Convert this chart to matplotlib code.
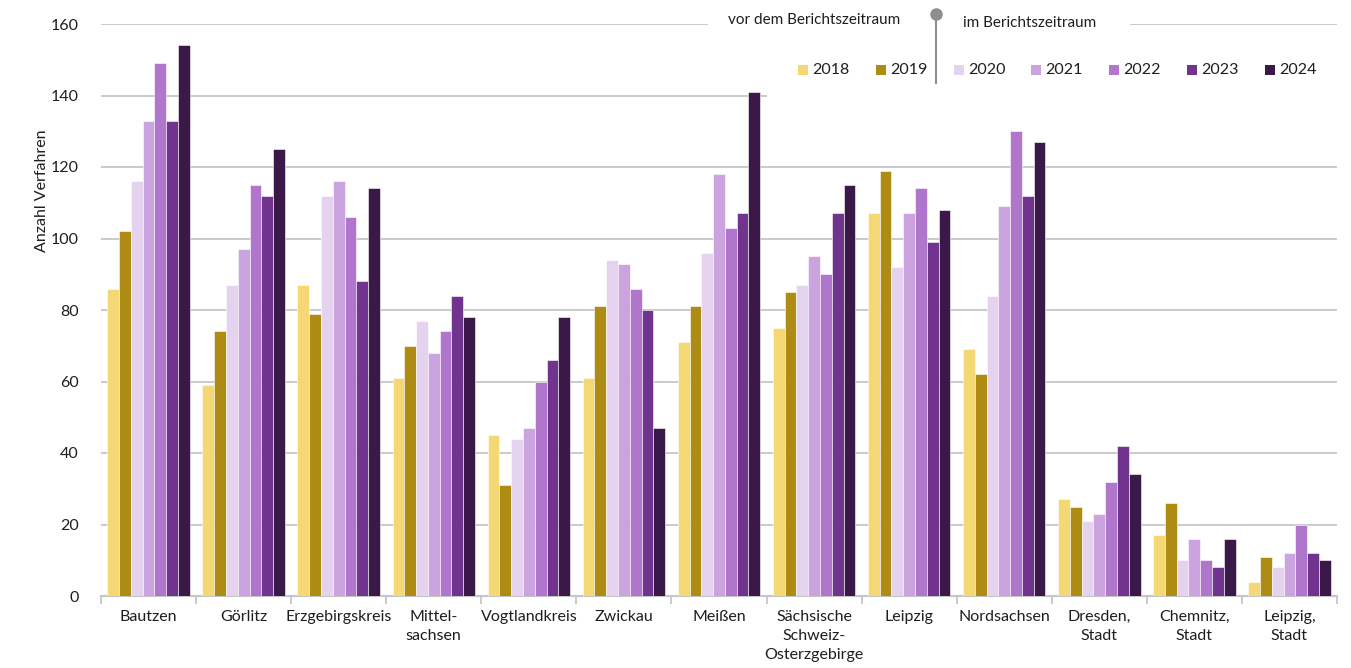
import numpy as np
import matplotlib
matplotlib.use("Agg")
import matplotlib.pyplot as plt
from matplotlib.patches import Rectangle
from matplotlib.lines import Line2D

plt.rcParams['font.family'] = ['Lato', 'DejaVu Sans']

regions = ['Bautzen', 'Görlitz', 'Erzgebirgskreis', 'Mittel-\nsachsen', 'Vogtlandkreis',
           'Zwickau', 'Meißen', 'Sächsische\nSchweiz-\nOsterzgebirge', 'Leipzig',
           'Nordsachsen', 'Dresden,\nStadt', 'Chemnitz,\nStadt', 'Leipzig,\nStadt']
years = ['2018', '2019', '2020', '2021', '2022', '2023', '2024']

v2018 = [86, 59, 87, 61, 45, 61, 71, 75, 107, 69, 27, 17, 4]
v2019 = [102, 74, 79, 70, 31, 81, 81, 85, 119, 62, 25, 26, 11]
v2020 = [116, 87, 112, 77, 44, 94, 96, 87, 92, 84, 21, 10, 8]
v2021 = [133, 97, 116, 68, 47, 93, 118, 95, 107, 109, 23, 16, 12]
v2022 = [149, 115, 106, 74, 60, 86, 103, 90, 114, 130, 32, 10, 20]
v2023 = [133, 112, 88, 84, 66, 80, 107, 107, 99, 112, 42, 8, 12]
v2024 = [154, 125, 114, 78, 78, 47, 141, 115, 108, 127, 34, 16, 10]

colors = ['#F3D873', '#AE8C13', '#E4D2EE', '#CBA3DE', '#B076CC', '#70338E', '#3A1949']
series = [v2018, v2019, v2020, v2021, v2022, v2023, v2024]

W, H = 1351, 668
fig = plt.figure(figsize=(W / 100, H / 100), dpi=100)
ax = fig.add_axes([101 / W, 1 - 596 / H, (1337 - 101) / W, (596 - 24) / H])

txt = '#1e1e1e'
grid_c = '#C6C6C6'

x = np.arange(len(regions))
bw = 0.124
for i, (vals, c) in enumerate(zip(series, colors)):
    off = (i - 3) * bw
    ax.bar(x + off, vals, width=bw, color=c, edgecolor='white', linewidth=0.4, zorder=3)

ax.set_xlim(-0.5, len(regions) - 0.5)
ax.set_ylim(0, 160)
ax.set_yticks(np.arange(0, 161, 20))
ax.yaxis.grid(True, color=grid_c, linewidth=1.3, zorder=0.5)
ax.set_axisbelow(True)
ax.tick_params(axis='y', length=0, pad=16, labelsize=11.5, labelcolor=txt)

ax.set_xticks(x)
ax.set_xticklabels(regions, fontsize=11.5, color=txt, linespacing=1.45)
ax.tick_params(axis='x', which='major', length=0, pad=10)
ax.set_xticks(np.arange(-0.5, len(regions)), minor=True)
ax.tick_params(axis='x', which='minor', length=6, width=1.3, color=grid_c, direction='out')

for s in ['top', 'right', 'left']:
    ax.spines[s].set_visible(False)
ax.spines['bottom'].set_color(grid_c)
ax.spines['bottom'].set_linewidth(1.5)

fig.text(42 / W, 1 - 191 / H, 'Anzahl Verfahren', rotation=90, ha='center', va='center',
         fontsize=11.5, color=txt)

# white backgrounds behind legend header and entries
ax.add_patch(Rectangle((708 / W, 1 - 36 / H), (1130 - 708) / W, 30 / H,
                       transform=fig.transFigure, facecolor='white', edgecolor='none', zorder=1))
ax.add_patch(Rectangle((767 / W, 1 - 102 / H), (1345 - 767) / W, 66 / H,
                       transform=fig.transFigure, facecolor='white', edgecolor='none', zorder=1))

# legend header
fig.text(900 / W, 1 - 20 / H, 'vor dem Berichtszeitraum', ha='right', va='center',
         fontsize=11, color=txt)
fig.text(963 / W, 1 - 23 / H, 'im Berichtszeitraum', ha='left', va='center',
         fontsize=11, color=txt)
fig.add_artist(Line2D([935.5 / W, 935.5 / W], [1 - 14 / H, 1 - 83 / H],
                      color='#8E8E8E', linewidth=1.5, transform=fig.transFigure))
fig.add_artist(Line2D([935.5 / W], [1 - 14 / H], marker='o', markersize=8,
                      color='#8E8E8E', transform=fig.transFigure))

# legend entries
marker_x = [798, 876, 954, 1031, 1109, 1187, 1265]
for mx, yr, c in zip(marker_x, years, colors):
    fig.add_artist(Rectangle((mx / W, 1 - 75 / H), 10 / W, 10 / H, facecolor=c,
                             edgecolor='none', transform=fig.transFigure))
    fig.text((mx + 14) / W, 1 - 70 / H, yr, ha='left', va='center', fontsize=11.5, color=txt)

fig.savefig('out.png', dpi=100)
